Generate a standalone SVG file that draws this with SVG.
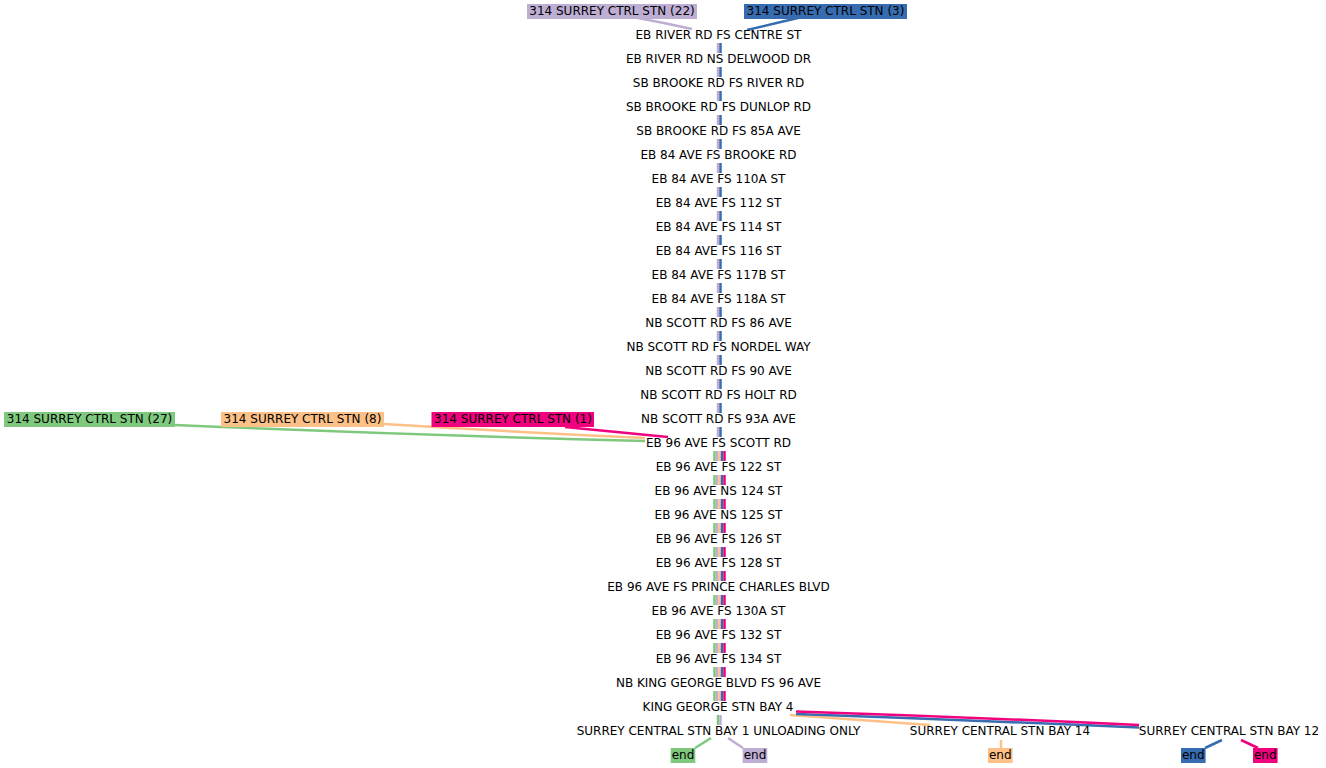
<svg xmlns="http://www.w3.org/2000/svg" width="1326" height="768" viewBox="0 0 1326 768">
<style>
text{font-family:"DejaVu Sans","Liberation Sans",sans-serif;font-size:12px;fill:#000;text-anchor:middle}
.c{fill:none;stroke-width:2.5;stroke-linecap:butt}
.g{stroke:#7fc97f}.p{stroke:#beaed4}.o{stroke:#fdc086}.b{stroke:#386cb0}.k{stroke:#f0027f}
.gf{fill:#7fc97f}.pf{fill:#beaed4}.of{fill:#fdc086}.bf{fill:#386cb0}.kf{fill:#f0027f}
</style>
<rect width="1326" height="768" fill="#fff"/>
<g id="connectors">
<path class="c p" d="M638 18Q665 23 692 29"/>
<path class="c b" d="M798 18Q772 24 747 30"/>
<path class="c g" d="M175 425Q410 435 645 441"/>
<path class="c o" d="M384 424Q515 432 645 438"/>
<path class="c k" d="M565 427Q615 432 668 437"/>
<path class="c p" d="M718 43V53M718 67V77M718 91V101M718 115V125M718 139V149M718 163V173M718 187V197M718 211V221M718 235V245M718 259V269M718 283V293M718 307V317M718 331V341M718 355V365M718 379V389M718 403V413M718 427V437"/>
<path class="c b" d="M720.5 43V53M720.5 67V77M720.5 91V101M720.5 115V125M720.5 139V149M720.5 163V173M720.5 187V197M720.5 211V221M720.5 235V245M720.5 259V269M720.5 283V293M720.5 307V317M720.5 331V341M720.5 355V365M720.5 379V389M720.5 403V413M720.5 427V437"/>
<path class="c g" d="M714.5 451V461M714.5 475V485M714.5 499V509M714.5 523V533M714.5 547V557M714.5 571V581M714.5 595V605M714.5 619V629M714.5 643V653M714.5 667V677M714.5 691V701"/>
<path class="c p" d="M717 451V461M717 475V485M717 499V509M717 523V533M717 547V557M717 571V581M717 595V605M717 619V629M717 643V653M717 667V677M717 691V701"/>
<path class="c o" d="M719.5 451V461M719.5 475V485M719.5 499V509M719.5 523V533M719.5 547V557M719.5 571V581M719.5 595V605M719.5 619V629M719.5 643V653M719.5 667V677M719.5 691V701"/>
<path class="c b" d="M722 451V461M722 475V485M722 499V509M722 523V533M722 547V557M722 571V581M722 595V605M722 619V629M722 643V653M722 667V677M722 691V701"/>
<path class="c k" d="M724.5 451V461M724.5 475V485M724.5 499V509M724.5 523V533M724.5 547V557M724.5 571V581M724.5 595V605M724.5 619V629M724.5 643V653M724.5 667V677M724.5 691V701"/>
<path class="c g" d="M718 715V725"/>
<path class="c p" d="M720.5 715V725"/>
<path class="c o" d="M790 715Q860 720 930 725"/>
<path class="c b" d="M796 714Q968 720 1139 727.5"/>
<path class="c k" d="M796 711.5Q968 717 1139 725"/>
<path class="c g" d="M711 738L695 748"/>
<path class="c p" d="M728 738L743 748"/>
<path class="c o" d="M1001 740V748"/>
<path class="c b" d="M1222 740L1205 748"/>
<path class="c k" d="M1241 740L1258 748"/>
</g>
<g id="start-22"><rect class="pf" x="527" y="4" width="170" height="15"/><text x="612" y="15">314 SURREY CTRL STN (22)</text></g>
<g id="start-3"><rect class="bf" x="744" y="4" width="163" height="15"/><text x="825.5" y="15">314 SURREY CTRL STN (3)</text></g>
<g id="start-27"><rect class="gf" x="4" y="412" width="171" height="15"/><text x="89.5" y="423">314 SURREY CTRL STN (27)</text></g>
<g id="start-8"><rect class="of" x="221" y="412" width="163" height="15"/><text x="302.5" y="423">314 SURREY CTRL STN (8)</text></g>
<g id="start-1"><rect class="kf" x="431.5" y="412" width="162.5" height="15"/><text x="513" y="423">314 SURREY CTRL STN (1)</text></g>
<g id="stop-0"><text x="718.5" y="39">EB RIVER RD FS CENTRE ST</text></g>
<g id="stop-1"><text x="718.5" y="63">EB RIVER RD NS DELWOOD DR</text></g>
<g id="stop-2"><text x="718.5" y="87">SB BROOKE RD FS RIVER RD</text></g>
<g id="stop-3"><text x="718.5" y="111">SB BROOKE RD FS DUNLOP RD</text></g>
<g id="stop-4"><text x="718.5" y="135">SB BROOKE RD FS 85A AVE</text></g>
<g id="stop-5"><text x="718.5" y="159">EB 84 AVE FS BROOKE RD</text></g>
<g id="stop-6"><text x="718.5" y="183">EB 84 AVE FS 110A ST</text></g>
<g id="stop-7"><text x="718.5" y="207">EB 84 AVE FS 112 ST</text></g>
<g id="stop-8"><text x="718.5" y="231">EB 84 AVE FS 114 ST</text></g>
<g id="stop-9"><text x="718.5" y="255">EB 84 AVE FS 116 ST</text></g>
<g id="stop-10"><text x="718.5" y="279">EB 84 AVE FS 117B ST</text></g>
<g id="stop-11"><text x="718.5" y="303">EB 84 AVE FS 118A ST</text></g>
<g id="stop-12"><text x="718.5" y="327">NB SCOTT RD FS 86 AVE</text></g>
<g id="stop-13"><text x="718.5" y="351">NB SCOTT RD FS NORDEL WAY</text></g>
<g id="stop-14"><text x="718.5" y="375">NB SCOTT RD FS 90 AVE</text></g>
<g id="stop-15"><text x="718.5" y="399">NB SCOTT RD FS HOLT RD</text></g>
<g id="stop-16"><text x="718.5" y="423">NB SCOTT RD FS 93A AVE</text></g>
<g id="stop-17"><text x="718.5" y="447">EB 96 AVE FS SCOTT RD</text></g>
<g id="stop-18"><text x="718.5" y="471">EB 96 AVE FS 122 ST</text></g>
<g id="stop-19"><text x="718.5" y="495">EB 96 AVE NS 124 ST</text></g>
<g id="stop-20"><text x="718.5" y="519">EB 96 AVE NS 125 ST</text></g>
<g id="stop-21"><text x="718.5" y="543">EB 96 AVE FS 126 ST</text></g>
<g id="stop-22"><text x="718.5" y="567">EB 96 AVE FS 128 ST</text></g>
<g id="stop-23"><text x="718.5" y="591">EB 96 AVE FS PRINCE CHARLES BLVD</text></g>
<g id="stop-24"><text x="718.5" y="615">EB 96 AVE FS 130A ST</text></g>
<g id="stop-25"><text x="718.5" y="639">EB 96 AVE FS 132 ST</text></g>
<g id="stop-26"><text x="718.5" y="663">EB 96 AVE FS 134 ST</text></g>
<g id="stop-27"><text x="718.5" y="687">NB KING GEORGE BLVD FS 96 AVE</text></g>
<g id="stop-28"><text x="718" y="711">KING GEORGE STN BAY 4</text></g>
<g id="stop-29"><text x="718.5" y="735">SURREY CENTRAL STN BAY 1 UNLOADING ONLY</text></g>
<g id="stop-30"><text x="1000" y="735">SURREY CENTRAL STN BAY 14</text></g>
<g id="stop-31"><text x="1229" y="735">SURREY CENTRAL STN BAY 12</text></g>
<g id="end-green"><rect class="gf" x="670.7" y="748" width="24.6" height="15"/><text x="683" y="759">end</text></g>
<g id="end-purple"><rect class="pf" x="742.7" y="748" width="24.6" height="15"/><text x="755" y="759">end</text></g>
<g id="end-orange"><rect class="of" x="988" y="748" width="24.6" height="15"/><text x="1000.3" y="759">end</text></g>
<g id="end-blue"><rect class="bf" x="1181" y="748" width="24.6" height="15"/><text x="1193.3" y="759">end</text></g>
<g id="end-pink"><rect class="kf" x="1253" y="748" width="24.6" height="15"/><text x="1265.3" y="759">end</text></g>
</svg>
